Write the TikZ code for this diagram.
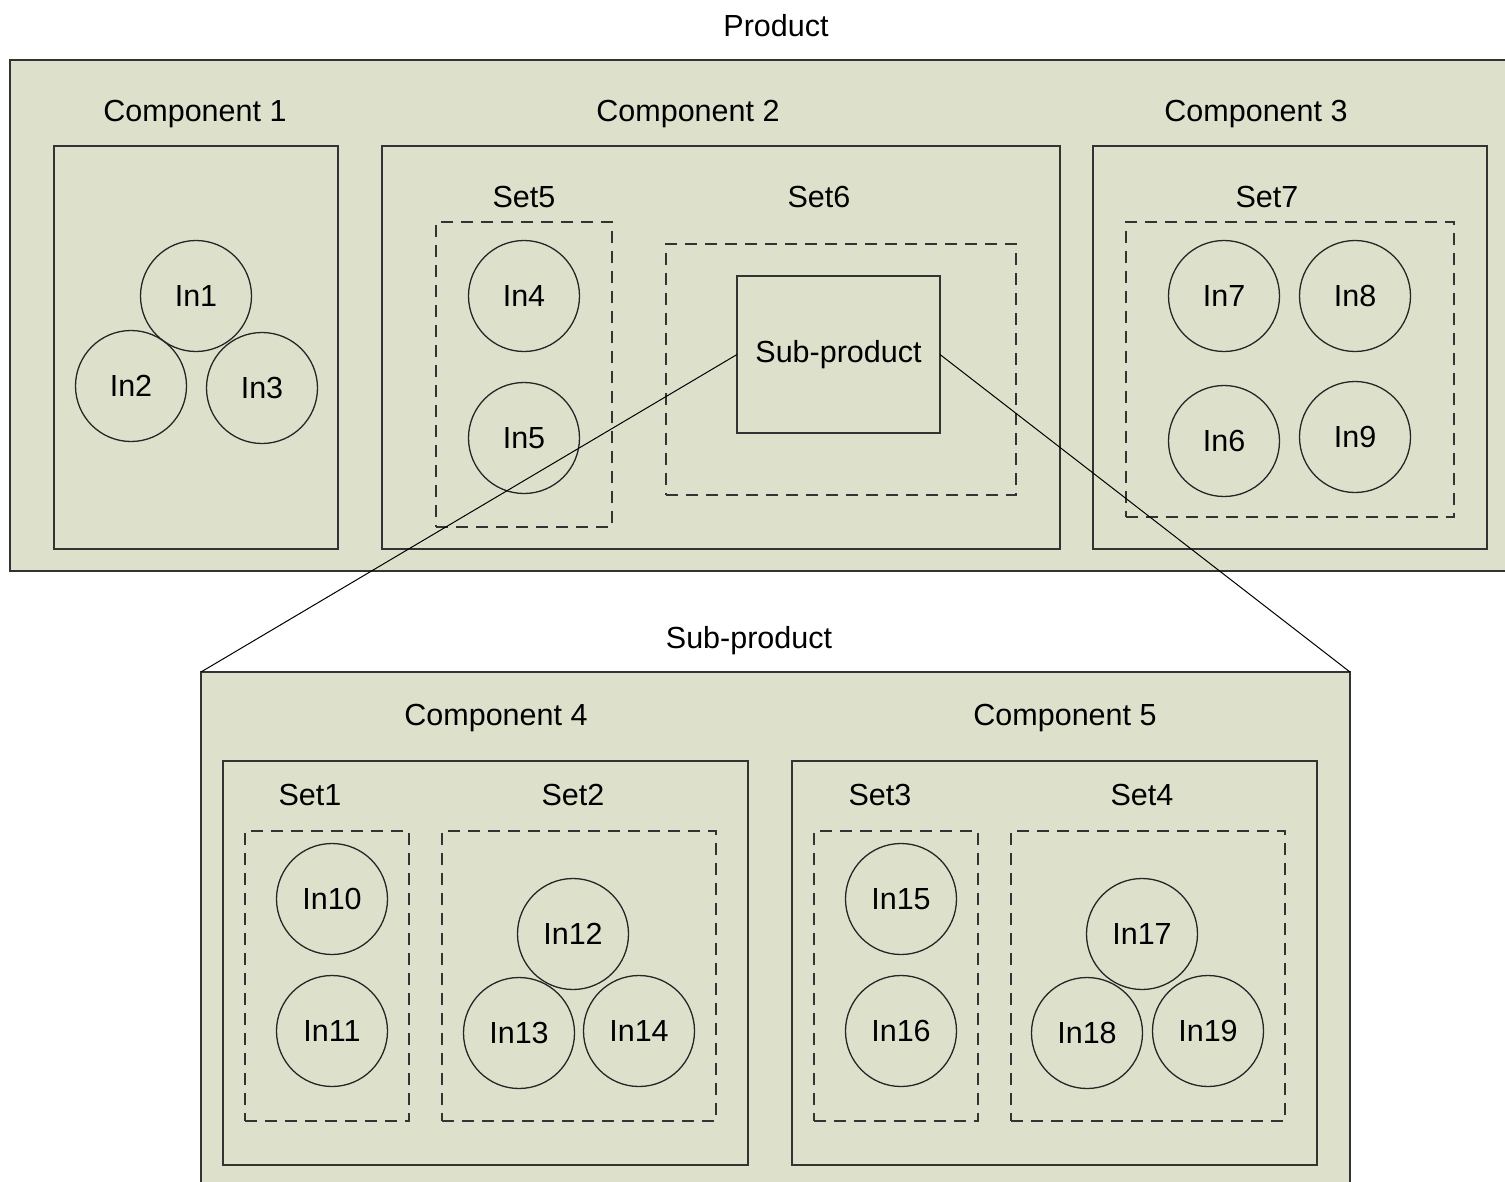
\documentclass[tikz,border=0pt]{standalone}
\usepackage{fontspec}
\setmainfont{Liberation Sans}
\definecolor{panel}{RGB}{221,225,204}
\begin{document}
\begin{tikzpicture}[x = 1pt, y = -1pt, font = \fontsize{30.5}{36}\selectfont,
        frame/.style = {draw = black!80, fill = panel, line width = 1.3pt, anchor = north west, inner sep = 0pt, outer sep = 0pt},
        setbox/.style = {draw = black!80, dash pattern = on 12pt off 8pt, line width = 1.3pt, anchor = north west, inner sep = 0pt, outer sep = 0pt},
        item/.style = {circle, draw = black!85, line width = 1.3pt, minimum size = 111pt, inner sep = 0pt, outer sep = 0pt},
        lbl/.style = {yshift = -3.5pt}]
    \useasboundingbox (0,0) rectangle (1505,1181);
    \clip (0,0) rectangle (1505,1181);

    % product
    \node[lbl] (tprod) at (776,22) {Product};
    \node[frame, minimum width = 1505pt, minimum height = 511pt] (prod) at (10,60) {};

    \node[lbl] (tcomp1) at (195,111) {Component 1};
    \node[lbl] (tcomp2) at (688,111) {Component 2};
    \node[lbl] (tcomp3) at (1256,111) {Component 3};
    \node[frame, minimum width = 284pt, minimum height = 403pt] (comp1) at (54,146) {};
    \node[frame, minimum width = 678pt, minimum height = 403pt] (comp2) at (382,146) {};
    \node[frame, minimum width = 394pt, minimum height = 403pt] (comp3) at (1093,146) {};

    \node[lbl] (tset5) at (524,193) {Set5};
    \node[lbl] (tset6) at (819,193) {Set6};
    \node[lbl] (tset7) at (1267,193) {Set7};
    \node[setbox, minimum width = 176pt, minimum height = 305pt] (set5) at (436,222) {};
    \node[setbox, minimum width = 350pt, minimum height = 251pt] (set6) at (666,244) {};
    \node[setbox, minimum width = 328pt, minimum height = 295pt] (set7) at (1126,222) {};
    \node[frame, minimum width = 203pt, minimum height = 157pt] (subprod) at (737,276) {Sub-product};

    \foreach \xi/\px/\py in {1/196/296, 2/131/386, 3/262/388, 4/524/296, 5/524/438,
                             7/1224/296, 8/1355/296, 6/1224/441, 9/1355/437}
        {
            \node[item] (in\xi) at (\px,\py) {In\xi};
        }

    % sub-product
    \node[lbl] (tsub) at (749,637) {Sub-product};
    \node[frame, minimum width = 1149pt, minimum height = 540pt] (sub) at (201,672) {};

    \node[lbl] (tcomp4) at (496,715) {Component 4};
    \node[lbl] (tcomp5) at (1065,715) {Component 5};
    \node[frame, minimum width = 525pt, minimum height = 404pt] (comp4) at (223,761) {};
    \node[frame, minimum width = 525pt, minimum height = 404pt] (comp5) at (792,761) {};

    \node[lbl] (tset1) at (310,791) {Set1};
    \node[lbl] (tset2) at (573,791) {Set2};
    \node[lbl] (tset3) at (880,791) {Set3};
    \node[lbl] (tset4) at (1142,791) {Set4};
    \node[setbox, minimum width = 164pt, minimum height = 290pt] (set1) at (245,831) {};
    \node[setbox, minimum width = 274pt, minimum height = 290pt] (set2) at (442,831) {};
    \node[setbox, minimum width = 164pt, minimum height = 290pt] (set3) at (814,831) {};
    \node[setbox, minimum width = 274pt, minimum height = 290pt] (set4) at (1011,831) {};

    \foreach \xi/\px/\py in {10/332/899, 11/332/1031, 12/573/934, 13/519/1033, 14/639/1031,
                             15/901/899, 16/901/1031, 17/1142/934, 18/1087/1033, 19/1208/1031}
        {
            \node[item] (in\xi) at (\px,\py) {In\xi};
        }

    \draw[line width = 1pt] (subprod.west) -- (sub.north west);
    \draw[line width = 1pt] (subprod.east) -- (sub.north east);
\end{tikzpicture}
\end{document}
